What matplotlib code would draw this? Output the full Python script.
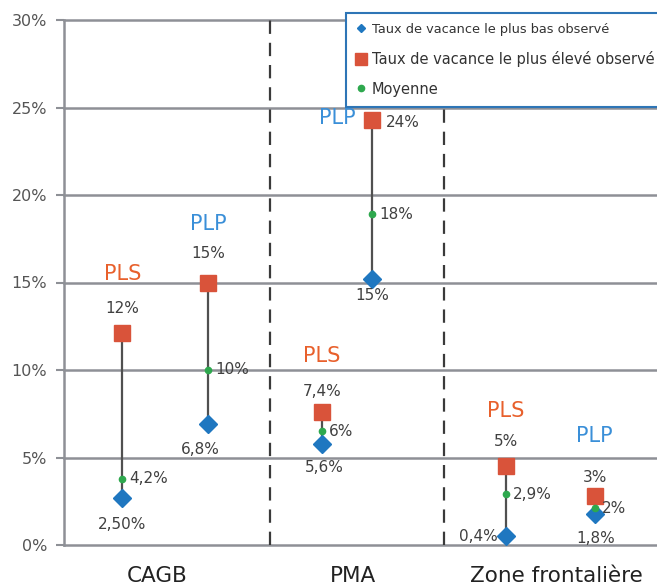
import matplotlib.pyplot as plt
from matplotlib.lines import Line2D

# data (in %)
groups = ["CAGB", "PMA", "Zone frontalière"]
series = ["PLS", "PLP", "PLS", "PLP", "PLS", "PLP"]
low = [2.7, 6.9, 5.8, 15.2, 0.5, 1.8]
high = [12.1, 15.0, 7.6, 24.3, 4.5, 2.8]
mean = [3.8, 10.0, 6.5, 18.9, 2.9, 2.1]
low_lbl = ["2,50%", "6,8%", "5,6%", "15%", "0,4%", "1,8%"]
high_lbl = ["12%", "15%", "7,4%", "24%", "5%", "3%"]
mean_lbl = ["4,2%", "10%", "6%", "18%", "2,9%", "2%"]

# layout (x in axis units, offsets in points)
xpos = [0.59, 1.46, 2.61, 3.12, 4.47, 5.37]
dividers = [2.08, 3.84]
group_x = [0.94, 2.92, 4.98]
high_off = [(0, 18), (0, 21), (0, 15), (10, -2), (0, 18), (0, 13)]
name_off = [(0, 43), (0, 42), (0, 40), (-12, 1), (0, 40), (0, 43)]
low_off = [(0, -19), (-6, -18), (2, -17), (0, -12), (-6, 0), (1, -18)]

ORANGE = "#E8602C"
BLUE = "#3A8FD8"
RED = "#D9533A"
DBLUE = "#1F77C0"
GREEN = "#2EA84E"
TXT = "#404040"
GRID = "#8E9096"

fig = plt.figure(figsize=(6.57, 5.86), dpi=100)
ax = fig.add_axes([64 / 657, 1 - 545 / 586, 1 - 64 / 657, 525 / 586])
ax.set_xlim(0, 6.0)
ax.set_ylim(0, 30)

for y in range(0, 31, 5):
    ax.axhline(y, color=GRID, lw=1.8, zorder=1, clip_on=False)
for d in dividers:
    ax.axvline(d, color="#3a3a3a", lw=1.6, ls=(0, (6, 4)), zorder=1)

for i in range(len(series)):
    x = xpos[i]
    ax.plot([x, x], [low[i], high[i]], color="#505050", lw=1.6, zorder=2)
    ax.plot(x, high[i], "s", ms=11.5, color=RED, zorder=3)
    ax.plot(x, low[i], "D", ms=9, color=DBLUE, zorder=3)
    ax.plot(x, mean[i], "o", ms=4.5, color=GREEN, zorder=4)
    col = ORANGE if series[i] == "PLS" else BLUE
    ha_hi = "left" if high_off[i][0] > 0 else "center"
    ax.annotate(high_lbl[i], (x, high[i]), xytext=high_off[i], textcoords="offset points",
                ha=ha_hi, va="center", fontsize=11, color=TXT)
    ha_nm = "right" if name_off[i][0] < 0 else "center"
    ax.annotate(series[i], (x, high[i]), xytext=name_off[i], textcoords="offset points",
                ha=ha_nm, va="center", fontsize=15, color=col)
    ax.annotate(mean_lbl[i], (x, mean[i]), xytext=(5, 0), textcoords="offset points",
                ha="left", va="center", fontsize=11, color=TXT)
    ha_lo = "right" if low_off[i][1] == 0 else "center"
    ax.annotate(low_lbl[i], (x, low[i]), xytext=low_off[i], textcoords="offset points",
                ha=ha_lo, va="center", fontsize=11, color=TXT)

for gx, g in zip(group_x, groups):
    ax.text(gx, -1.75, g, ha="center", va="center", fontsize=15.5, color="#222222")

ax.set_yticks(range(0, 31, 5))
ax.set_yticklabels([f"{v}%" for v in range(0, 31, 5)], fontsize=11.5, color="#555555")
ax.tick_params(axis="y", length=6, width=1.5, color=GRID, pad=6)
ax.set_xticks([])
for s in ["top", "right", "bottom"]:
    ax.spines[s].set_visible(False)
ax.spines["left"].set_color(GRID)
ax.spines["left"].set_linewidth(1.8)

handles = [
    Line2D([], [], marker="D", ls="", ms=4, color=DBLUE),
    Line2D([], [], marker="s", ls="", ms=9, color=RED),
    Line2D([], [], marker="o", ls="", ms=4.5, color=GREEN),
]
labels = ["Taux de vacance le plus bas observé",
          "Taux de vacance le plus élevé observé",
          "Moyenne"]
leg = fig.legend(handles, labels, loc="upper left", bbox_to_anchor=(346 / 657, 1 - 13 / 586),
                 fontsize=10.5, frameon=True, fancybox=False, framealpha=1, handlelength=0.7,
                 handletextpad=0.35, labelspacing=1.0, borderpad=0.7, borderaxespad=0)
leg.get_frame().set_edgecolor("#2E75B6")
leg.get_frame().set_linewidth(1.5)
leg.set_zorder(10)
for t, fs in zip(leg.get_texts(), [9.3, 10.5, 10.5]):
    t.set_color("#333333")
    t.set_fontsize(fs)

fig.savefig("out.png", dpi=100)
